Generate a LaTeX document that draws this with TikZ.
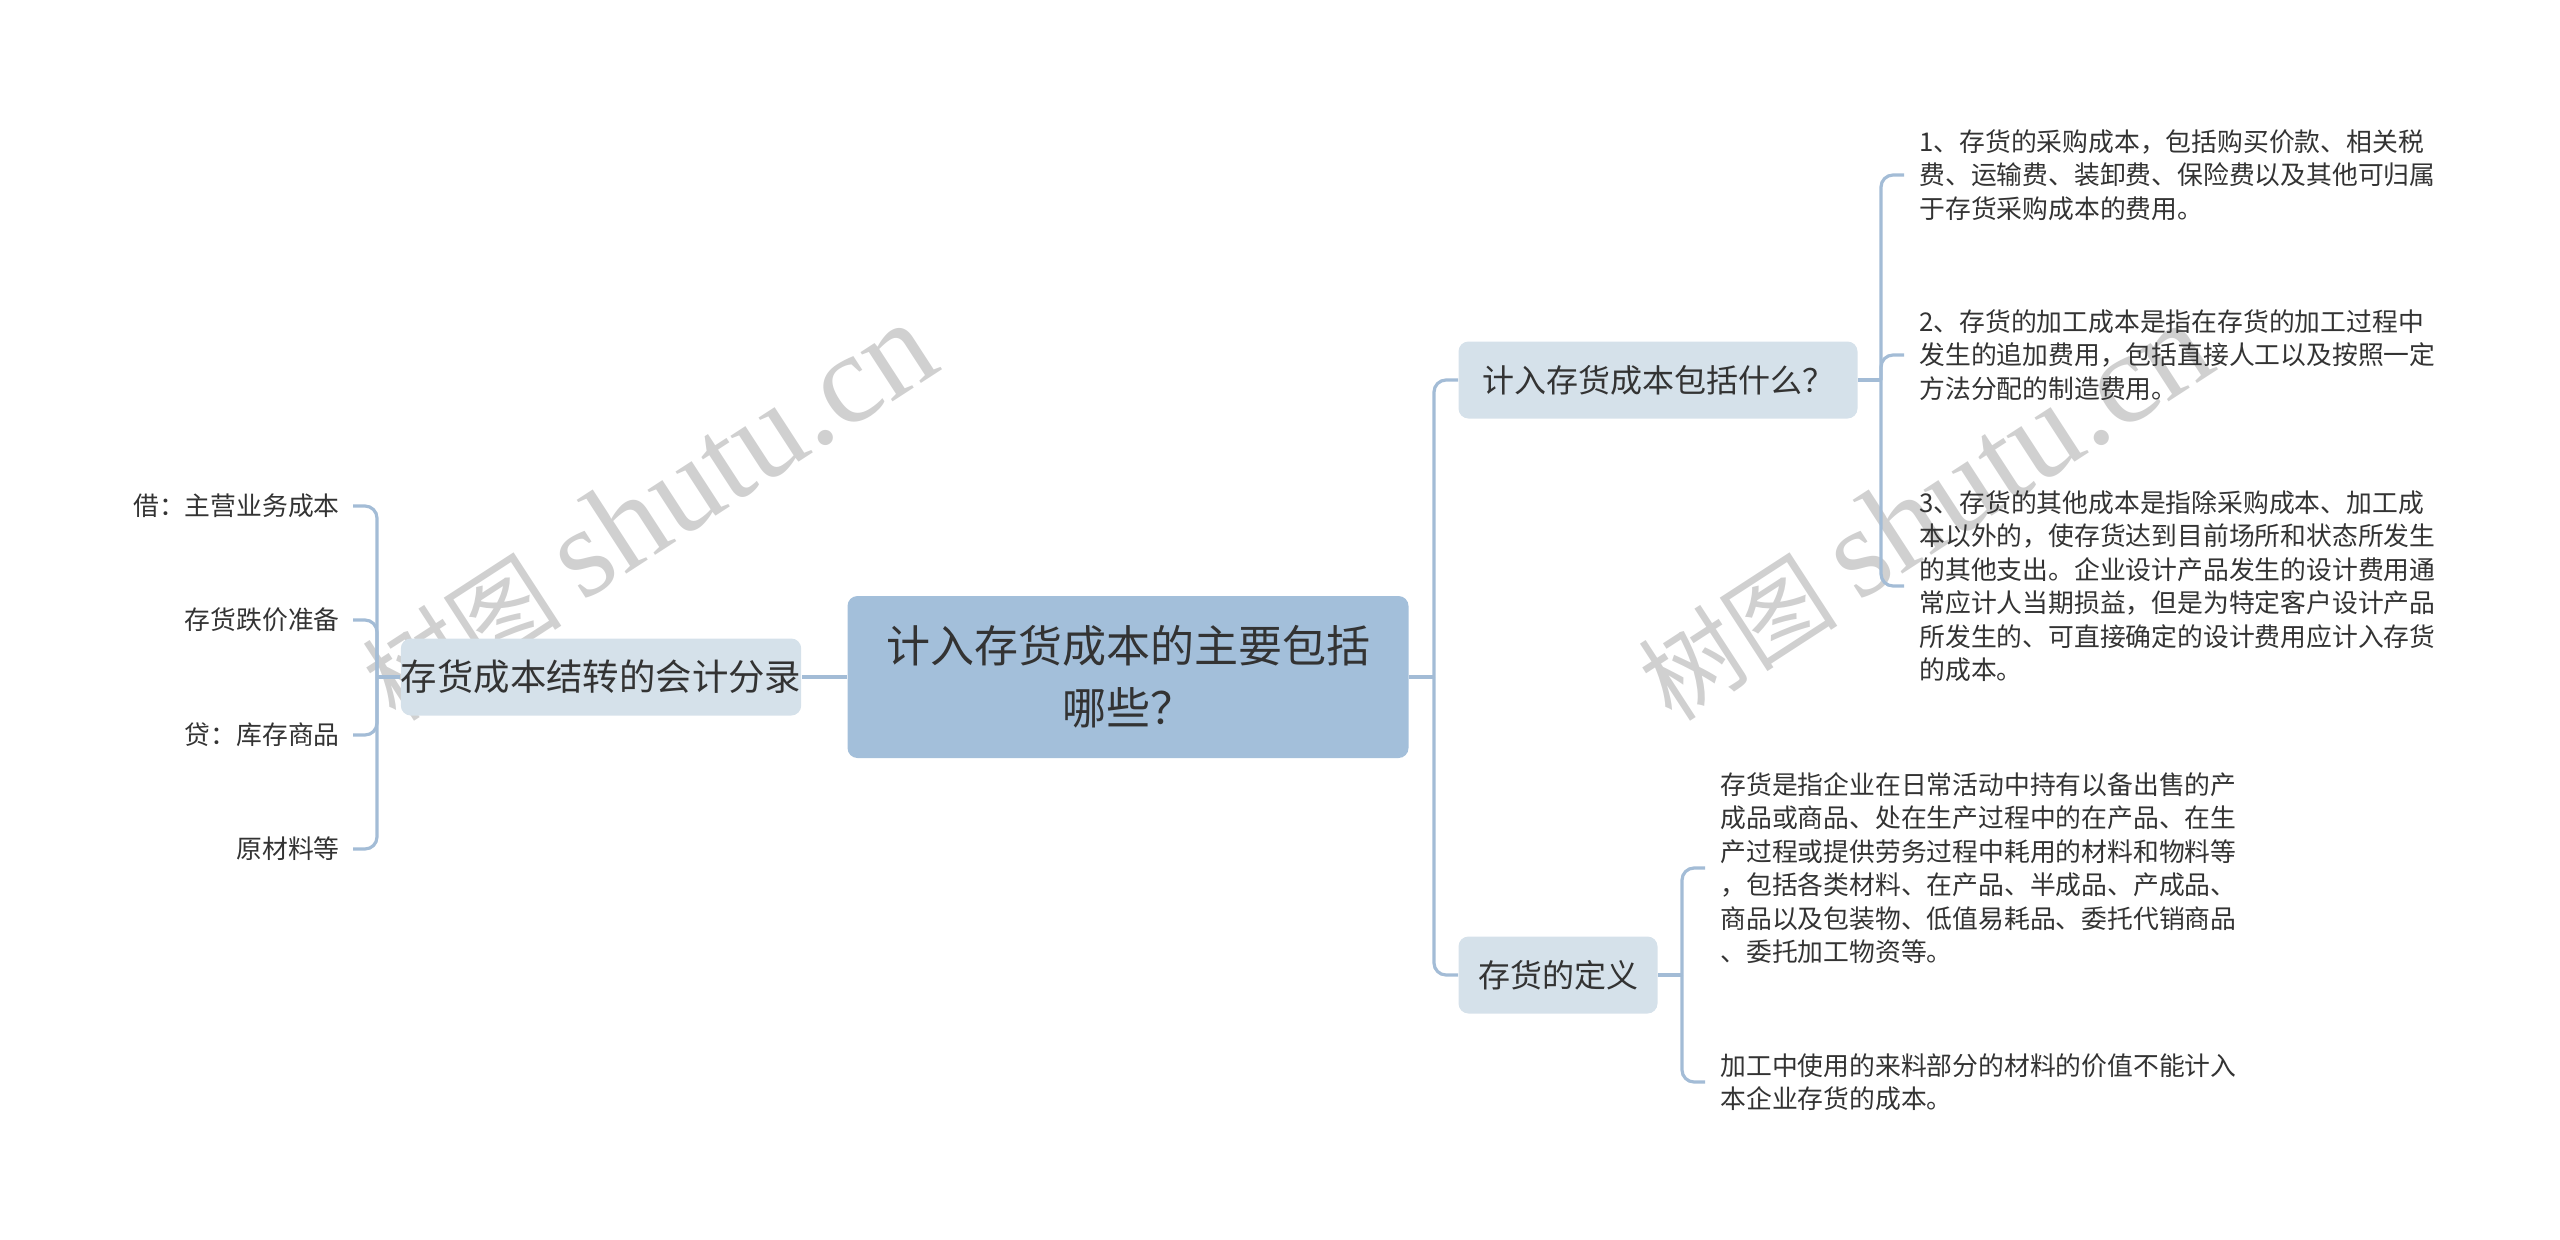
\documentclass[tikz,border=0pt]{standalone}
\usepackage{fontspec}
\setmainfont{Noto Sans CJK SC}
\newfontfamily\wmlatin{Liberation Serif}
\definecolor{rootblue}{HTML}{A3BFDA}
\definecolor{topicgray}{HTML}{D5E1EA}
\definecolor{linkblue}{HTML}{A3BCD6}
\definecolor{inktext}{HTML}{333333}
\definecolor{wmgray}{HTML}{D0D0D0}
\begin{document}
\begin{tikzpicture}[x=0.5pt,y=-0.5pt]
\tikzstyle{every node}+=[inner sep=0pt,text=inktext]
\tikzstyle{rootbox}=[fill=rootblue,rounded corners=5pt,align=center,minimum width=280.5pt,minimum height=81pt,font=\fontsize{22}{31}\selectfont]
\tikzstyle{topic}=[fill=topicgray,rounded corners=5pt,minimum height=38.5pt]
\tikzstyle{leaf}=[font=\fontsize{12.9}{16.75}\selectfont,align=left,inner xsep=7.5pt]
\tikzstyle{link}=[draw=linkblue,line width=1.6pt,rounded corners=6pt]
\tikzstyle{stamp}=[text=wmgray,rotate=33]
\useasboundingbox (0,0) rectangle (2560,1239);
\node [stamp] (wmL) at (648,512) {\fontsize{50}{50}\selectfont 树图 {\wmlatin\fontsize{64}{64}\selectfont shutu.cn}};
\node [stamp] (wmR) at (1924,512) {\fontsize{50}{50}\selectfont 树图 {\wmlatin\fontsize{64}{64}\selectfont shutu.cn}};
\node [rootbox] (root) at (1128,677) {计入存货成本的主要包括\\哪些？};
\node [topic,minimum width=199pt,font=\fontsize{18.2}{22}\selectfont] (entry) at (601,677) {存货成本结转的会计分录};
\node [topic,minimum width=199.5pt,font=\fontsize{16}{20}\selectfont] (cost) at (1658,380) {计入存货成本包括什么？};
\node [topic,minimum width=99.5pt,font=\fontsize{16}{20}\selectfont] (def) at (1558,975) {存货的定义};
\node [leaf,anchor=east,inner xsep=6.5pt] (debit) at (353,506) {借：主营业务成本};
\node [leaf,anchor=east,inner xsep=6.5pt] (fall) at (353,620) {存货跌价准备};
\node [leaf,anchor=east,inner xsep=6.5pt] (credit) at (353,735) {贷：库存商品};
\node [leaf,anchor=east,inner xsep=6.5pt] (raw) at (353,849) {原材料等};
\node [leaf,anchor=west] (buy) at (1904,175) {1、存货的采购成本，包括购买价款、相关税\\费、运输费、装卸费、保险费以及其他可归属\\于存货采购成本的费用。};
\node [leaf,anchor=west] (proc) at (1904,355) {2、存货的加工成本是指在存货的加工过程中\\发生的追加费用，包括直接人工以及按照一定\\方法分配的制造费用。};
\node [leaf,anchor=west] (other) at (1904,586) {3、存货的其他成本是指除采购成本、加工成\\本以外的，使存货达到目前场所和状态所发生\\的其他支出。企业设计产品发生的设计费用通\\常应计人当期损益，但是为特定客户设计产品\\所发生的、可直接确定的设计费用应计入存货\\的成本。};
\node [leaf,anchor=west] (defa) at (1705,868) {存货是指企业在日常活动中持有以备出售的产\\成品或商品、处在生产过程中的在产品、在生\\产过程或提供劳务过程中耗用的材料和物料等\\，包括各类材料、在产品、半成品、产成品、\\商品以及包装物、低值易耗品、委托代销商品\\、委托加工物资等。};
\node [leaf,anchor=west] (defb) at (1705,1082) {加工中使用的来料部分的材料的价值不能计入\\本企业存货的成本。};
\coordinate (jl) at (377,677);
\coordinate (jr) at (1434,677);
\coordinate (jc) at (1881,380);
\coordinate (jd) at (1682,975);
\draw [link] (root.west) -- (entry.east);
\draw [link] (entry.west) -- (jl);
\foreach \n in {debit,fall,credit,raw} \draw [link] (jl) |- (\n.east);
\draw [link] (root.east) -- (jr);
\foreach \n in {cost,def} \draw [link] (jr) |- (\n.west);
\draw [link] (cost.east) -- (jc);
\foreach \n in {buy,proc,other} \draw [link] (jc) |- (\n.west);
\draw [link] (def.east) -- (jd);
\foreach \n in {defa,defb} \draw [link] (jd) |- (\n.west);
\end{tikzpicture}
\end{document}
